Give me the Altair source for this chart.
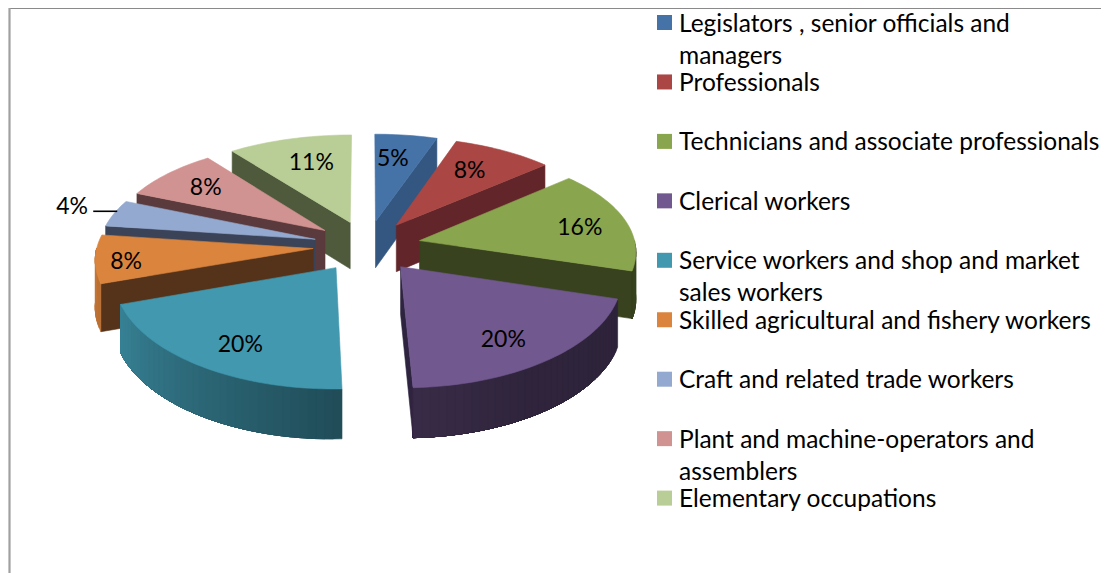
import math
import altair as alt
import pandas as pd

categories = ["Legislators , senior officials and managers", "Professionals",
              "Technicians and associate professionals", "Clerical workers",
              "Service workers and shop and market sales workers",
              "Skilled agricultural and fishery workers",
              "Craft and related trade workers",
              "Plant and machine-operators and assemblers", "Elementary occupations"]
legend_lines = [["Legislators , senior officials and", "managers"], ["Professionals"],
                ["Technicians and associate professionals"], ["Clerical workers"],
                ["Service workers and shop and market", "sales workers"],
                ["Skilled agricultural and fishery workers"],
                ["Craft and related trade workers"],
                ["Plant and machine-operators and", "assemblers"], ["Elementary occupations"]]
percent_labels = ["5%", "8%", "16%", "20%", "20%", "8%", "4%", "8%", "11%"]
shares = [5.15, 8.35, 16.2, 19.7, 20.25, 7.5, 4.25, 8.3, 10.3]
top_colors = ["#4572a7", "#aa4643", "#89a54e", "#71588f", "#4198af", "#db843d", "#93a9cf", "#d19392", "#b9cd96"]
edge_colors = ["#335780", "#62262a", "#38421e", "#2e2440", "#2a6273", "#55331a", "#3a4358", "#5a3a3c", "#4f5a3c"]
label_radius = [0.71, 0.71, 0.77, 0.76, 0.77, 0.86, 1.225, 0.75, 0.70]
label_turn = [-2, -2, 2, 3, -3, -2, 1, 0, 2]
paint_order = [8, 0, 7, 1, 6, 5, 2, 4, 3]

CX, CY, RX, RY, KX, KY, EXPLODE = 367, 246, 216, 102.3, 0.09, 0.113, 0.25
FONT = "Lato"


def project(X, Y, drop=False):
    x = CX + RX * X / (1 + KX * Y)
    y = CY - RY * Y / (1 + KY * Y)
    if drop:
        y += 47 - 2.5 * Y
    return x, y


def point(t, r, mid):
    a, m = math.radians(t), math.radians(mid)
    return r * math.sin(a) + EXPLODE * math.sin(m), r * math.cos(a) + EXPLODE * math.cos(m)


def darken(hex_color, f):
    c = [int(hex_color[i:i + 2], 16) for i in (1, 3, 5)]
    return "#%02x%02x%02x" % tuple(min(255, int(v * f)) for v in c)


def rim_shade(t):
    knots = [(90, 0.40), (150, 0.42), (177, 0.50), (210, 0.66), (249, 0.85), (280, 0.92)]
    for (a, fa), (b, fb) in zip(knots, knots[1:]):
        if a <= t <= b:
            return fa + (fb - fa) * (t - a) / (b - a)
    return 0.9


rows = []
pid = 0


def add_poly(points, color):
    global pid
    pts = list(points) + [points[0]]
    for i, (x, y) in enumerate(pts):
        rows.append({"pid": pid, "i": i, "x": round(x, 2), "y": round(y, 2), "c": color})
    pid += 1


def frange(a, b, step):
    n = max(1, int(round((b - a) / step)))
    return [a + (b - a) * k / n for k in range(n + 1)]


cum = [0]
for s in shares:
    cum.append(cum[-1] + s * 3.6)

for k in paint_order:
    t0, t1 = cum[k], cum[k + 1]
    mid = (t0 + t1) / 2
    col = top_colors[k]
    apex = point(0, 0, mid)
    for t, visible in ((t0, t0 > 180), (t1, t1 < 180)):
        if visible:
            p = point(t, 1, mid)
            add_poly([project(*apex), project(*p), project(*p, True), project(*apex, True)], edge_colors[k])
    lo, hi = max(t0, 90), min(t1, 270)
    if lo < hi:
        ts = frange(lo, hi, 2)
        # each band runs on to the end of the rim, so the next band paints over it without seams
        for j in range(len(ts) - 1):
            tail = ts[j:]
            upper = [project(*point(t, 1, mid)) for t in tail]
            lower = [project(*point(t, 1, mid), True) for t in reversed(tail)]
            add_poly(upper + lower, darken(col, rim_shade((ts[j] + ts[j + 1]) / 2)))
    add_poly([project(*apex)] + [project(*point(t, 1, mid)) for t in frange(t0, t1, 1.5)], col)

polys = pd.DataFrame(rows)

label_rows = []
for k, t in enumerate(percent_labels):
    mid = (cum[k] + cum[k + 1]) / 2
    x, y = project(*point(mid + label_turn[k], label_radius[k], mid))
    label_rows.append({"x": x, "y": y + 1, "t": t})
labels = pd.DataFrame(label_rows)

k = 6
mid6 = (cum[k] + cum[k + 1]) / 2
lx, ly = project(*point(mid6, 1, mid6))
leader = pd.DataFrame({"x": [lx + 3, lx - 21], "y": [ly - 2, ly - 2]})

legend_text, legend_marks = [], []
for k, lines in enumerate(legend_lines):
    y0 = 23 + 59.45 * k
    legend_marks.append({"x": 664.5, "y": y0 - 0.5, "c": top_colors[k], "cat": categories[k]})
    for j, line in enumerate(lines):
        legend_text.append({"x": 679, "y": y0 + 1.5 + 32 * j, "t": line})
legend_text = pd.DataFrame(legend_text)
legend_marks = pd.DataFrame(legend_marks)

xs = alt.Scale(domain=[8, 1101], range=[0, 1093], nice=False, zero=False)
ys = alt.Scale(domain=[8, 573], range=[0, 565], nice=False, zero=False)
X = lambda: alt.X("x:Q", scale=xs, axis=None)
Y = lambda: alt.Y("y:Q", scale=ys, axis=None)

frame_top = alt.Chart(pd.DataFrame({"x": [9, 1101], "y": [8.5, 8.5]})).mark_line(color="#8a8a8a", strokeWidth=1.2).encode(X(), Y())
frame_left = alt.Chart(pd.DataFrame({"x": [9.5, 9.5], "y": [8, 573]})).mark_line(color="#a0a0a0", strokeWidth=2.2).encode(X(), Y())

pie = alt.Chart(polys).mark_line(strokeWidth=0.6, interpolate="linear").encode(
    X(), Y(), order="i:Q", detail="pid:N",
    fill=alt.Fill("c:N", scale=None), stroke=alt.Stroke("c:N", scale=None))

lead = alt.Chart(leader).mark_line(color="#000000", strokeWidth=1.6).encode(X(), Y())
pct = alt.Chart(labels).mark_text(font=FONT, fontSize=23, color="#000000", align="center", baseline="middle").encode(X(), Y(), text="t:N")
squares = alt.Chart(legend_marks).mark_square(size=225, opacity=1).encode(X(), Y(), fill=alt.Fill("c:N", scale=None), stroke=alt.value(None))
ltext = alt.Chart(legend_text).mark_text(font=FONT, fontSize=24.5, color="#000000", align="left", baseline="middle").encode(X(), Y(), text="t:N")

chart = alt.layer(frame_top, frame_left, pie, lead, pct, squares, ltext).properties(
    width=1093, height=565, padding=0, autosize=alt.AutoSizeParams(type="none")
).configure_view(stroke=None)

chart.save("out.html", embed_options={"renderer": "svg", "actions": False})
